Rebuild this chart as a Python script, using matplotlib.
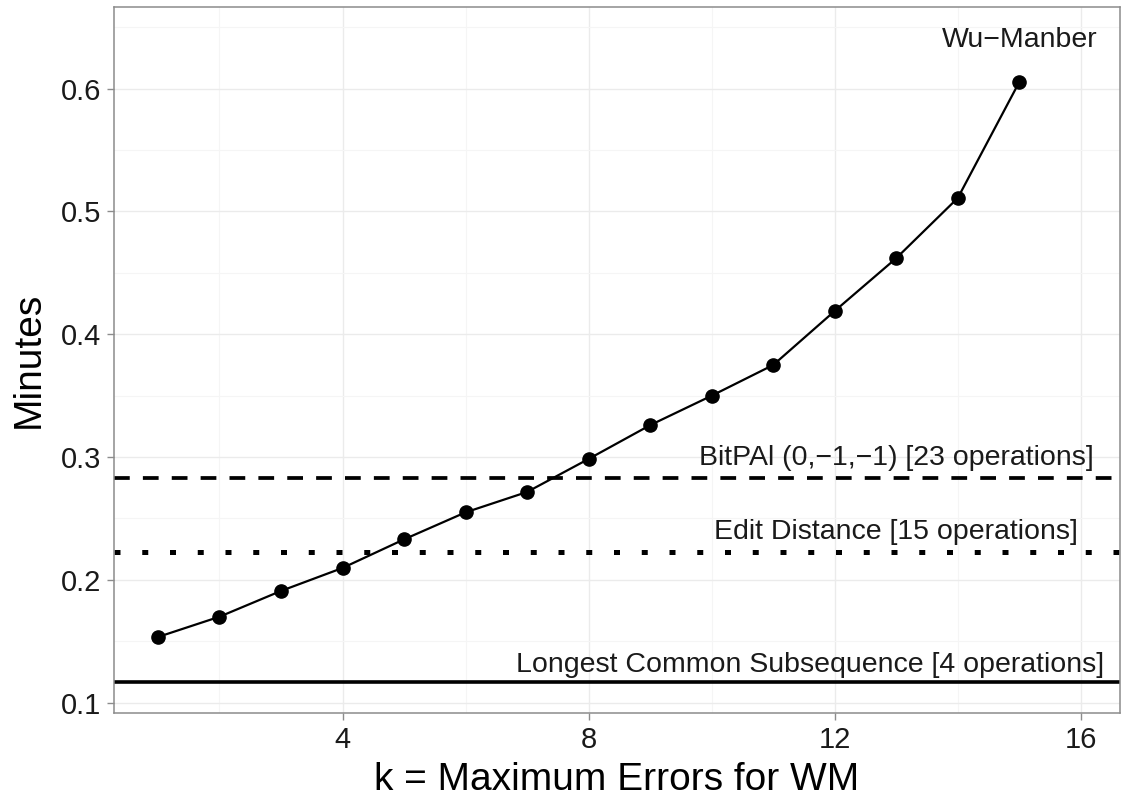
import matplotlib
matplotlib.use("Agg")
import matplotlib.pyplot as plt

plt.rcParams["font.family"] = ["Liberation Sans", "DejaVu Sans"]

# Wu-Manber running time for each k
k_values = [1, 2, 3, 4, 5, 6, 7, 8, 9, 10, 11, 12, 13, 14, 15]
wm_minutes = [0.1535, 0.170, 0.191, 0.2097, 0.233, 0.255, 0.2716, 0.2985,
              0.326, 0.350, 0.375, 0.419, 0.462, 0.511, 0.6055]

# constant-time reference algorithms
ref_names = ["BitPAl (0,\u22121,\u22121) [23 operations]",
             "Edit Distance [15 operations]",
             "Longest Common Subsequence [4 operations]"]
ref_minutes = [0.2832, 0.223, 0.1171]
ref_label_x = [13.0, 13.0, 11.6]
ref_label_y = [0.299, 0.239, 0.1307]

x_ticks = [4, 8, 12, 16]
y_ticks = [0.1, 0.2, 0.3, 0.4, 0.5, 0.6]

fig = plt.figure(figsize=(11.23, 7.98), dpi=100)
ax = fig.add_axes([0.1015, 0.1065, 0.8955, 0.8847])

# grid like ggplot theme_bw
ax.set_xticks(x_ticks)
ax.set_yticks(y_ticks)
ax.set_xticks([2, 6, 10, 14], minor=True)
ax.set_yticks([0.15, 0.25, 0.35, 0.45, 0.55, 0.65], minor=True)
ax.grid(which="major", color="#ebebeb", lw=1.0)
ax.grid(which="minor", color="#f5f5f5", lw=0.8)
ax.set_axisbelow(True)

styles = [dict(ls=(0, (4.2, 3.5)), lw=2.7),
          dict(ls=(0, (1.2, 4.35)), lw=3.6),
          dict(ls="-", lw=2.6)]
for val, st in zip(ref_minutes, styles):
    ax.axhline(val, color="black", dash_capstyle="butt", zorder=2, **st)
for name, lx, ly in zip(ref_names, ref_label_x, ref_label_y):
    ax.text(lx, ly, name, ha="center", va="center", fontsize=20.5, color="#1a1a1a")

ax.plot(k_values, wm_minutes, color="black", lw=1.6, marker="o", markersize=9.5, zorder=3)
ax.text(15, 0.6397, "Wu\u2212Manber", ha="center", va="center", fontsize=20.5, color="#1a1a1a")

ax.set_xlim(0.286, 16.63)
ax.set_ylim(0.0916, 0.6665)

for sp in ax.spines.values():
    sp.set_color("#8c8c8c")
    sp.set_linewidth(1.1)

ax.tick_params(which="major", length=5, width=1.0, color="#8c8c8c",
               labelsize=21, labelcolor="#1a1a1a", pad=4)
ax.tick_params(which="minor", length=0)
ax.set_yticklabels([f"{v:.1f}" for v in y_ticks])

ax.set_xlabel("k = Maximum Errors for WM", fontsize=28, labelpad=6)
ax.set_ylabel("Minutes", fontsize=28, labelpad=10)

fig.savefig("out.png", dpi=100)
